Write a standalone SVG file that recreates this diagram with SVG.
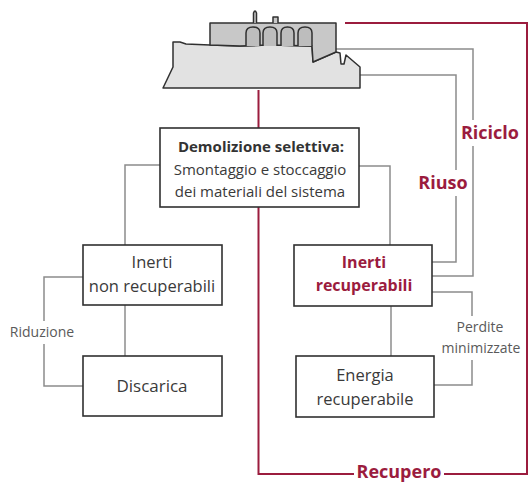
<svg xmlns="http://www.w3.org/2000/svg" width="530" height="483" viewBox="0 0 530 483">
  <style>
    .box { fill: #ffffff; stroke: #303030; stroke-width: 1.6; }
    .gray { fill: none; stroke: #8c8c8c; stroke-width: 1.5; }
    .red { fill: none; stroke: #9b1c3e; stroke-width: 2; }
    .outline { stroke: #303030; stroke-width: 1.5; stroke-linejoin: round; }
    text { font-family: "Open Sans", "DejaVu Sans", sans-serif; text-anchor: middle; }
    .t { font-size: 15px; fill: #3a3a3a; }
    .tl { font-size: 16.5px; fill: #3a3a3a; }
    .tb { font-size: 15px; font-weight: bold; fill: #333333; }
    .lbl { font-size: 14px; fill: #5a5a5a; }
    .rl { font-size: 18px; font-weight: bold; fill: #9b1c3e; }
    .rb { font-size: 16px; font-weight: bold; fill: #9b1c3e; }
  </style>

  <!-- connectors -->
  <g id="connectors">
    <!-- red recovery path -->
    <path class="red" d="M345,23 H527 V474 H444"/>
    <path class="red" d="M354,474 H258.5 V90"/>
    <!-- recycle loop -->
    <path class="gray" d="M336,49 H473 V120"/>
    <path class="gray" d="M473,146 V276 H432"/>
    <!-- reuse loop -->
    <path class="gray" d="M360,75 H456 V170"/>
    <path class="gray" d="M456,196 V262 H432"/>
    <!-- demolition split -->
    <path class="gray" d="M160,165 H125 V245"/>
    <path class="gray" d="M359,166 H390 V245"/>
    <!-- down links -->
    <path class="gray" d="M125,305 V356"/>
    <path class="gray" d="M391,306 V356"/>
    <!-- reduction loop -->
    <path class="gray" d="M83,277 H44 V321"/>
    <path class="gray" d="M44,344 V386 H83"/>
    <!-- minimised losses loop -->
    <path class="gray" d="M432,292 H472 V316"/>
    <path class="gray" d="M472,360 V385 H434"/>
  </g>

  <!-- building on the hill -->
  <g id="building">
    <path class="outline" fill="#e2e2e2" d="M173,42 L180,42 L186,44 L210,45 L240,46 L270,45 L312,46 L313,62 L336,52 L340,53 L341,64 L344,64 L346,55 L360,67 L360,88 L163,88 L173,67 Z"/>
    <path class="outline" fill="#c8c8c8" d="M210,23 H336 V52 L313,62 L312,46 L270,45 L240,46 L210,45 Z"/>
    <path class="outline" fill="#c8c8c8" d="M253.5,23 V13 Q255,9 256.5,13 V23"/>
    <path class="outline" fill="#c8c8c8" d="M273,23 V17 H278 V23"/>
    <g class="outline" fill="#bdbdbd">
      <path d="M246,46 V33 Q246,27 253,27 Q260,27 260,33 V46"/>
      <path d="M263,46 V33 Q263,27 270,27 Q277,27 277,33 V46"/>
      <path d="M281,46 V33 Q281,27 287.5,27 Q294,27 294,33 V46"/>
      <path d="M298,46 V33 Q298,27 305,27 Q312,27 312,33 V46"/>
    </g>
  </g>

  <g id="demolizione">
    <rect class="box" x="160" y="128" width="199" height="79"/>
    <text class="tb" x="261" y="152">Demolizione selettiva:</text>
    <text class="t" x="260" y="175">Smontaggio e stoccaggio</text>
    <text class="t" x="260" y="197">dei materiali del sistema</text>
  </g>

  <g id="inerti-non-recuperabili">
    <rect class="box" x="83" y="245" width="139" height="60"/>
    <text class="tl" x="152" y="268">Inerti</text>
    <text class="tl" x="152" y="292">non recuperabili</text>
  </g>

  <g id="discarica">
    <rect class="box" x="83" y="356" width="139" height="60"/>
    <text class="tl" x="152" y="392" style="font-size:17px">Discarica</text>
  </g>

  <g id="inerti-recuperabili">
    <rect class="box" x="294" y="245" width="138" height="61"/>
    <text class="rb" x="364" y="268">Inerti</text>
    <text class="rb" x="364" y="291">recuperabili</text>
  </g>

  <g id="energia-recuperabile">
    <rect class="box" x="296" y="356" width="138" height="61"/>
    <text class="tl" x="365" y="381">Energia</text>
    <text class="tl" x="365" y="405">recuperabile</text>
  </g>

  <!-- flow labels -->
  <g id="labels">
    <text class="rl" x="490" y="139">Riciclo</text>
    <text class="rl" x="443" y="189">Riuso</text>
    <text class="lbl" x="42" y="337">Riduzione</text>
    <text class="lbl" x="480" y="332">Perdite</text>
    <text class="lbl" x="481" y="353">minimizzate</text>
    <text class="rl" x="399" y="478">Recupero</text>
  </g>
</svg>
